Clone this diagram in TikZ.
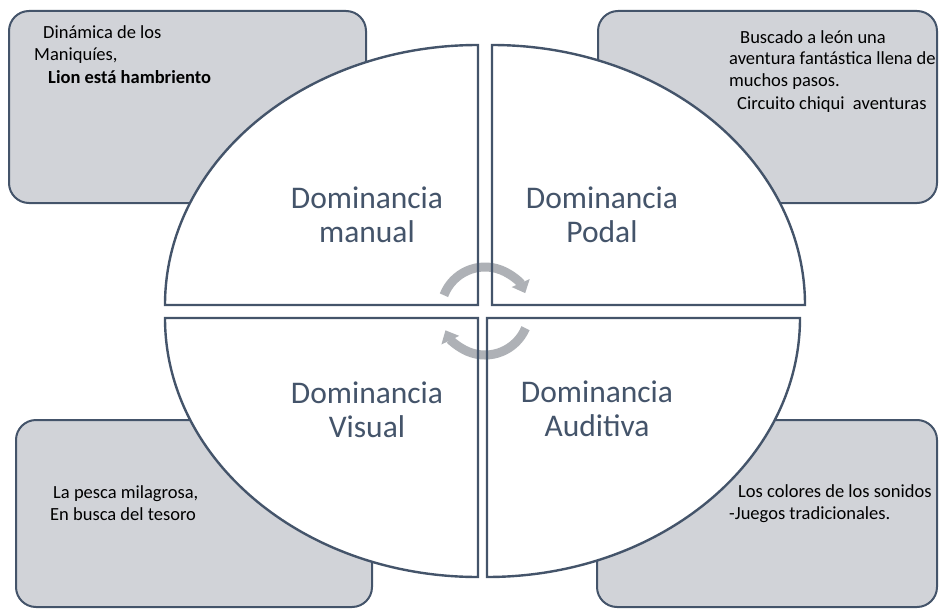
\documentclass[tikz,border=0pt]{standalone}
\usepackage{fontspec}
\setmainfont{Carlito}
\usetikzlibrary{arrows.meta}
\definecolor{slate}{HTML}{44546A}
\definecolor{boxgray}{HTML}{D1D3D8}
\definecolor{cyclegray}{HTML}{AEB1B6}

\begin{document}
\begin{tikzpicture}[x=1pt,y=-1pt,
         activity/.style = {draw=slate, line width=2pt, fill=boxgray,
         rounded corners=20pt},
         quadrant/.style = {draw=slate, line width=2.4pt, line join=miter},
         cycle/.style = {draw=cyclegray, line width=9pt,
         -{Triangle[length=11pt,width=19pt]}},
         dominance/.style = {text=slate, align=center,
         font=\fontsize{31.5}{34}\selectfont},
         activitytext/.style = {anchor=base west, align=left, inner sep=0pt,
         font=\fontsize{18.5}{22}\selectfont}
]
   \useasboundingbox (0,0) rectangle (940,610);

   % activity boxes behind the ellipse
   \path[activity] (9,11)    rectangle (366,203);
   \path[activity] (598,11)  rectangle (937,203);
   \path[activity] (16,420)  rectangle (372,607);
   \path[activity] (597,420) rectangle (937,607);

   % corners of the four quadrants
   \coordinate (tl) at (478,305);
   \coordinate (tr) at (492,305);
   \coordinate (bl) at (478,318);
   \coordinate (br) at (487,318);
   \coordinate (hub) at (485,311);

   % white quadrants
   \fill[white] (tl) -- ++(-313,0) arc[start angle=180, end angle=270,
      x radius=313, y radius=260] -- cycle;
   \fill[white] (tr) -- ++(0,-260) arc[start angle=270, end angle=360,
      x radius=313, y radius=260] -- cycle;
   \fill[white] (br) -- ++(313,0) arc[start angle=0, end angle=90,
      x radius=313, y radius=259] -- cycle;
   \fill[white] (bl) -- ++(0,259) arc[start angle=90, end angle=180,
      x radius=313, y radius=259] -- cycle;

   % cycle arrows
   \draw[cycle] (hub) ++(201:44) arc[start angle=201, end angle=336, radius=44];
   \draw[cycle] (hub) ++(23:44) arc[start angle=23, end angle=154, radius=44];

   % quadrant outlines
   \draw[quadrant] (tl) -- ++(-313,0) arc[start angle=180, end angle=270,
      x radius=313, y radius=260] -- cycle;
   \draw[quadrant] (tr) -- ++(0,-260) arc[start angle=270, end angle=360,
      x radius=313, y radius=260] -- cycle;
   \draw[quadrant] (br) -- ++(313,0) arc[start angle=0, end angle=90,
      x radius=313, y radius=259] -- cycle;
   \draw[quadrant] (bl) -- ++(0,259) arc[start angle=90, end angle=180,
      x radius=313, y radius=259] -- cycle;

   % quadrant labels
   \node[dominance] (manual)   at (367,215) {Dominancia\\manual};
   \node[dominance] (podal)    at (602,215) {Dominancia\\Podal};
   \node[dominance] (visual)   at (367,410) {Dominancia\\Visual};
   \node[dominance] (auditiva) at (597,409) {Dominancia\\Auditiva};

   % activities
   \node[activitytext] (maniquies) at (34,84)
      {\hspace*{9pt}Dinámica de los\\ Maniquíes,\\[1pt]
       \hspace*{14pt}\textbf{Lion está hambriento}};
   \node[activitytext] (leon) at (729,109)
      {\hspace*{11pt}Buscado a león una\\ aventura fantástica llena de\\
       muchos pasos.\\ \hspace*{8pt}Circuito chiqui\ \ aventuras};
   \node[activitytext] (pesca) at (50,520)
      {\hspace*{3pt}La pesca milagrosa,\\ En busca del tesoro};
   \node[activitytext] (sonidos) at (729,519)
      {\hspace*{9pt}Los colores de los sonidos\\ -Juegos tradicionales.};
\end{tikzpicture}
\end{document}
